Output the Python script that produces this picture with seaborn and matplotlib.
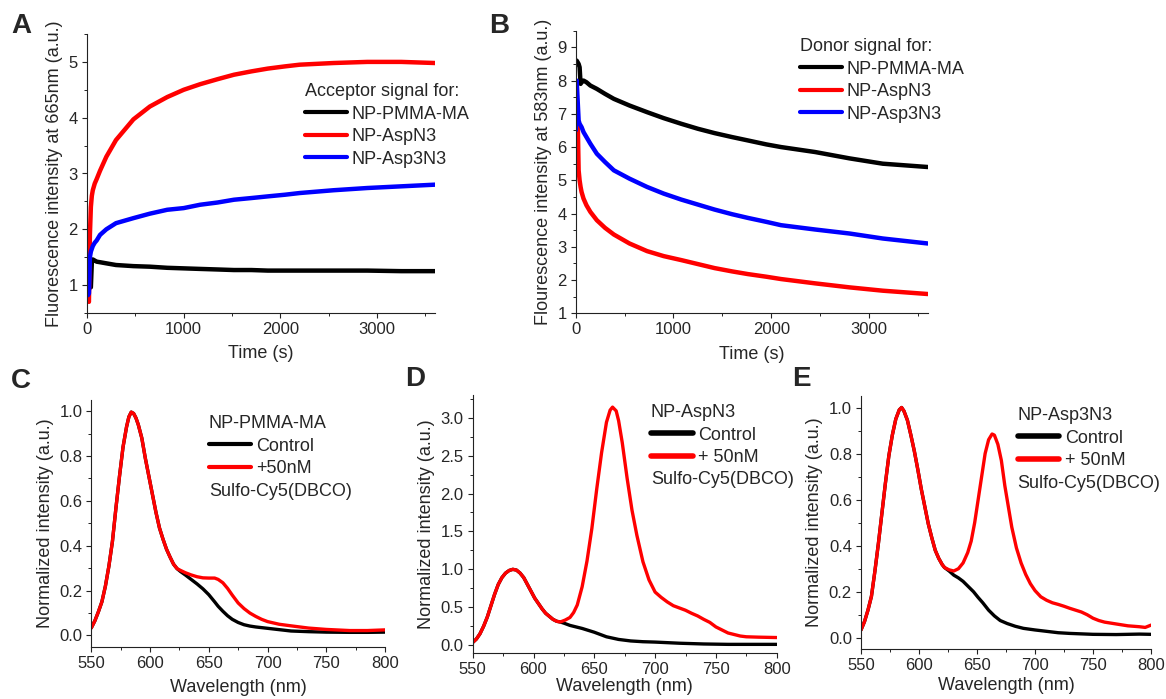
import numpy as np
import pandas as pd
import matplotlib
matplotlib.use("Agg")
import matplotlib.pyplot as plt
import seaborn as sns
from matplotlib.ticker import MultipleLocator, FormatStrFormatter

# ---------------- data ----------------
# Panel A: acceptor signal (665 nm) vs time
time_A = [0, 10, 20, 30, 40, 50, 60, 80, 100, 135, 200, 300, 480, 650, 830, 1000,
          1170, 1350, 1520, 1700, 1870, 2050, 2200, 2550, 2900, 3250, 3600]
acc_pmma = [1.02, 1.0, 1.0, 0.98, 0.96, 1.4, 1.46, 1.44, 1.42, 1.41, 1.39, 1.36, 1.34, 1.33,
            1.31, 1.3, 1.29, 1.28, 1.27, 1.27, 1.26, 1.26, 1.26, 1.26, 1.26, 1.25, 1.25]
acc_aspn3 = [0.85, 0.75, 0.70, 1.9, 2.4, 2.6, 2.7, 2.82, 2.9, 3.05, 3.3, 3.6, 3.97, 4.2,
             4.37, 4.5, 4.6, 4.69, 4.77, 4.83, 4.88, 4.92, 4.95, 4.98, 5.0, 5.0, 4.98]
acc_asp3n3 = [0.85, 0.82, 0.85, 1.5, 1.6, 1.65, 1.7, 1.76, 1.8, 1.9, 2.0, 2.11, 2.2, 2.28,
              2.35, 2.38, 2.44, 2.48, 2.53, 2.56, 2.59, 2.62, 2.65, 2.7, 2.74, 2.77, 2.8]

# Panel B: donor signal (583 nm) vs time
time_B = [0, 10, 20, 30, 40, 50, 60, 80, 110, 150, 216, 300, 390, 550, 730, 900, 1080,
          1250, 1420, 1600, 1760, 1950, 2100, 2450, 2800, 3140, 3600]
don_pmma = [8.6, 8.6, 8.55, 8.5, 8.4, 7.9, 7.95, 8.0, 7.95, 7.85, 7.75, 7.6, 7.45, 7.25,
            7.05, 6.87, 6.7, 6.55, 6.42, 6.3, 6.2, 6.08, 6.0, 5.85, 5.66, 5.5, 5.4]
don_asp3n3 = [6.5, 8.0, 7.4, 6.8, 6.7, 6.65, 6.6, 6.45, 6.3, 6.1, 5.8, 5.55, 5.3, 5.05,
              4.8, 4.6, 4.42, 4.27, 4.12, 3.98, 3.87, 3.75, 3.65, 3.52, 3.4, 3.25, 3.1]
don_aspn3 = [6.4, 6.6, 6.9, 5.3, 5.0, 4.8, 4.65, 4.45, 4.25, 4.05, 3.8, 3.57, 3.37, 3.1,
             2.87, 2.72, 2.6, 2.48, 2.36, 2.26, 2.18, 2.1, 2.03, 1.9, 1.78, 1.68, 1.58]

# Panel C: NP-PMMA-MA spectra (shared donor band, then the two curves)
wl_C_shared = [550, 553, 556, 559, 562, 565, 568, 571, 574, 577, 580, 582, 584, 586, 588,
               590, 593, 596, 599, 602, 605, 608, 611, 614, 617, 620, 623]
C_shared = [0.034, 0.065, 0.105, 0.15, 0.22, 0.31, 0.42, 0.57, 0.71, 0.84, 0.93, 0.975,
            0.996, 0.99, 0.97, 0.94, 0.88, 0.79, 0.71, 0.63, 0.55, 0.48, 0.43, 0.385,
            0.35, 0.318, 0.298]
wl_C_tail = [626, 630, 635, 640, 645, 650, 655, 658, 662, 666, 670, 675, 680, 685, 690,
             695, 700, 710, 720, 735, 750, 770, 785, 800]
C_control_tail = [0.285, 0.27, 0.25, 0.23, 0.208, 0.182, 0.15, 0.13, 0.108, 0.088, 0.072,
                  0.058, 0.048, 0.042, 0.038, 0.035, 0.032, 0.026, 0.02, 0.017, 0.015,
                  0.014, 0.014, 0.015]
C_dye_tail = [0.29, 0.28, 0.27, 0.262, 0.257, 0.256, 0.256, 0.25, 0.235, 0.21, 0.18,
              0.145, 0.12, 0.1, 0.085, 0.072, 0.062, 0.05, 0.043, 0.033, 0.027, 0.022,
              0.022, 0.025]

# Panel D: NP-AspN3 spectra
wl_D_shared = [550, 553, 556, 559, 562, 565, 568, 571, 574, 577, 580, 583, 586, 589, 592,
               595, 598, 601, 604, 607, 610, 613, 616, 619, 622]
D_shared = [0.035, 0.08, 0.15, 0.25, 0.37, 0.52, 0.67, 0.8, 0.89, 0.95, 0.985, 1.0, 0.99,
            0.95, 0.89, 0.8, 0.71, 0.62, 0.55, 0.48, 0.42, 0.38, 0.34, 0.315, 0.305]
wl_D_ctrl_tail = [625, 630, 640, 650, 660, 670, 680, 690, 700, 720, 740, 760, 780, 800]
D_control_tail = [0.29, 0.26, 0.22, 0.17, 0.11, 0.075, 0.055, 0.045, 0.04, 0.025, 0.015,
                  0.01, 0.01, 0.01]
wl_D_dye_tail = [626, 630, 633, 636, 640, 644, 648, 652, 656, 660, 663, 665, 668, 670,
                 673, 677, 681, 685, 690, 695, 700, 705, 710, 715, 720, 725, 730, 735,
                 740, 745, 750, 755, 760, 765, 770, 775, 785, 800]
D_dye_tail = [0.33, 0.365, 0.43, 0.53, 0.77, 1.11, 1.54, 2.06, 2.54, 2.94, 3.1, 3.14,
              3.09, 2.96, 2.67, 2.2, 1.78, 1.45, 1.1, 0.86, 0.7, 0.63, 0.57, 0.52, 0.49,
              0.46, 0.42, 0.385, 0.34, 0.3, 0.24, 0.2, 0.16, 0.14, 0.12, 0.11, 0.105, 0.1]

# Panel E: NP-Asp3N3 spectra
wl_E_shared = [550, 553, 556, 559, 562, 565, 568, 571, 574, 577, 580, 583, 585, 587, 590,
               593, 596, 599, 602, 605, 608, 611, 614, 617, 620]
E_shared = [0.034, 0.07, 0.12, 0.18, 0.29, 0.41, 0.54, 0.67, 0.79, 0.88, 0.95, 0.99, 1.0,
            0.985, 0.945, 0.88, 0.81, 0.73, 0.645, 0.57, 0.495, 0.435, 0.38, 0.345, 0.318]
wl_E_ctrl_tail = [622, 626, 630, 634, 638, 642, 647, 651, 655, 660, 665, 670, 676, 683,
                  690, 700, 710, 720, 730, 750, 770, 790, 800]
E_control_tail = [0.305, 0.29, 0.272, 0.26, 0.245, 0.225, 0.2, 0.175, 0.152, 0.12, 0.095,
                  0.075, 0.062, 0.05, 0.041, 0.034, 0.028, 0.022, 0.019, 0.015, 0.014,
                  0.016, 0.015]
wl_E_dye_tail = [622, 626, 630, 634, 638, 642, 645, 648, 651, 654, 657, 660, 663, 665,
                 668, 671, 674, 677, 680, 684, 688, 692, 696, 700, 705, 710, 715, 720,
                 725, 730, 735, 740, 745, 750, 755, 760, 770, 780, 790, 795, 800]
E_dye_tail = [0.305, 0.295, 0.29, 0.3, 0.325, 0.37, 0.42, 0.5, 0.6, 0.7, 0.8, 0.86,
              0.885, 0.88, 0.84, 0.77, 0.66, 0.57, 0.48, 0.39, 0.325, 0.275, 0.235, 0.205,
              0.178, 0.163, 0.152, 0.145, 0.137, 0.128, 0.12, 0.112, 0.1, 0.085, 0.075,
              0.068, 0.06, 0.052, 0.048, 0.045, 0.055]

series_names = ["NP-PMMA-MA", "NP-AspN3", "NP-Asp3N3"]
colors = {"black": "#000000", "red": "#ff0000", "blue": "#0000ff"}

# ---------------- style ----------------
sns.set_style("ticks")
plt.rcParams["font.family"] = ["Liberation Sans", "DejaVu Sans"]
plt.rcParams["axes.linewidth"] = 0.8
plt.rcParams["axes.edgecolor"] = "#222222"

W, H = 1166, 699
fig = plt.figure(figsize=(W / 100, H / 100), dpi=100)


def px_axes(l, t, r, b):
    return fig.add_axes([l / W, 1 - b / H, (r - l) / W, (b - t) / H])


def style_axes(ax, xmaj, xmin, ymaj, ymin):
    sns.despine(ax=ax)
    ax.xaxis.set_major_locator(MultipleLocator(xmaj))
    ax.xaxis.set_minor_locator(MultipleLocator(xmin))
    ax.yaxis.set_major_locator(MultipleLocator(ymaj))
    ax.yaxis.set_minor_locator(MultipleLocator(ymin))
    ax.tick_params(which="major", direction="out", length=3.5, width=0.8,
                   labelsize=12, color="#222222", pad=3)
    ax.tick_params(which="minor", direction="out", length=2, width=0.7, color="#222222")


def add_legend(ax, title, lx, ty, fs=13, hl=2.3, lw=3):
    leg = ax.legend(loc="upper left", bbox_to_anchor=(lx / W, 1 - ty / H),
                    bbox_transform=fig.transFigure, frameon=False, title=title,
                    fontsize=fs, title_fontsize=fs, borderpad=0, borderaxespad=0,
                    handlelength=hl, handletextpad=0.3, labelspacing=0.31,
                    alignment="left")
    for line in leg.get_lines():
        line.set_linewidth(lw)
    return leg


# ---------------- Panel A ----------------
axA = px_axes(87, 34, 435, 313)
for vals, c, n in zip([acc_pmma, acc_aspn3, acc_asp3n3],
                      ["black", "red", "blue"], series_names):
    sns.lineplot(x=time_A, y=vals, color=colors[c], lw=3.2, label=n, ax=axA)
axA.set_xlim(0, 3600)
axA.set_ylim(0.5, 5.5)
style_axes(axA, 1000, 500, 1, 0.5)
axA.set_xlabel("Time (s)", fontsize=13, labelpad=6)
axA.set_ylabel("Fluorescence intensity at 665nm (a.u.)", fontsize=13)
add_legend(axA, "Acceptor signal for:", 305, 83)

# ---------------- Panel B ----------------
axB = px_axes(575.7, 30.7, 927.7, 313.3)
for vals, c, n in zip([don_pmma, don_aspn3, don_asp3n3],
                      ["black", "red", "blue"], series_names):
    sns.lineplot(x=time_B, y=vals, color=colors[c], lw=3.2, label=n, ax=axB)
axB.set_xlim(0, 3600)
axB.set_ylim(1, 9.5)
style_axes(axB, 1000, 500, 1, 0.5)
axB.set_xlabel("Time (s)", fontsize=13, labelpad=6)
axB.set_ylabel("Flourescence intensity at 583nm (a.u.)", fontsize=13)
add_legend(axB, "Donor signal for:", 800, 38)

# ---------------- Panels C, D, E ----------------
spec = [
    ("C", (91.3, 400, 385, 646.7),
     wl_C_shared + wl_C_tail, C_shared + C_control_tail,
     wl_C_shared + wl_C_tail, C_shared + C_dye_tail,
     (-0.05, 1.05), 0.2, 0.1, "NP-PMMA-MA", "+50nM", (209, 415), 3, 6),
    ("D", (472.7, 395, 776.7, 652.7),
     wl_D_shared + wl_D_ctrl_tail, D_shared + D_control_tail,
     wl_D_shared + wl_D_dye_tail, D_shared + D_dye_tail,
     (-0.1, 3.3), 0.5, 0.25, "NP-AspN3", "+ 50nM", (651, 404), 4, 1),
    ("E", (861, 396, 1151, 649.3),
     wl_E_shared + wl_E_ctrl_tail, E_shared + E_control_tail,
     wl_E_shared + wl_E_dye_tail, E_shared + E_dye_tail,
     (-0.05, 1.05), 0.2, 0.1, "NP-Asp3N3", "+ 50nM", (1017.7, 407), 4, 3),
]
for (key, box, wl_c, ctrl, wl_d, dye, ylim, ymaj, ymin, title, dlabel,
     legpos, hlw, xpad) in spec:
    ax = px_axes(*box)
    sns.lineplot(x=wl_c, y=ctrl, color=colors["black"], lw=2.4, label="Control", ax=ax)
    sns.lineplot(x=wl_d, y=dye, color=colors["red"], lw=2.4, label=dlabel, ax=ax)
    ax.set_xlim(550, 800)
    ax.set_ylim(*ylim)
    style_axes(ax, 50, 25, ymaj, ymin)
    ax.yaxis.set_major_formatter(FormatStrFormatter("%.1f"))
    ax.set_xlabel("Wavelength (nm)", fontsize=13, labelpad=xpad)
    ax.set_ylabel("Normalized intensity (a.u.)", fontsize=13)
    add_legend(ax, title, legpos[0], legpos[1], hl=2.3, lw=hlw)
    ax.text(legpos[0] / W, 1 - (legpos[1] + 76) / H, "Sulfo-Cy5(DBCO)",
            transform=fig.transFigure, fontsize=13, ha="left", va="center")

# panel letters
for letter, (x, y) in {"A": (11, 26), "B": (489, 26), "C": (11, 381),
                       "D": (405, 379), "E": (792, 379)}.items():
    fig.text(x / W, 1 - y / H, letter, fontsize=20, fontweight="bold",
             ha="left", va="center")

fig.savefig("out.png", dpi=100)
